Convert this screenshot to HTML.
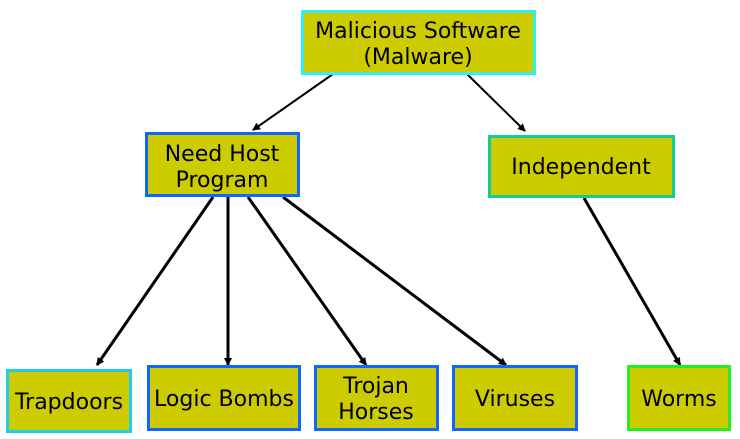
<!DOCTYPE html>
<html><head><style>
html,body{margin:0;padding:0;background:#fff;width:740px;height:439px;overflow:hidden}
text{font-family:"DejaVu Sans","Liberation Sans",sans-serif;font-size:22px;fill:#000}
</style></head><body>
<svg width="740" height="439" xmlns="http://www.w3.org/2000/svg">
<defs><marker id="a" markerWidth="8" markerHeight="8" refX="7" refY="4" orient="auto" markerUnits="userSpaceOnUse"><path d="M0,0 L8,4 L0,8 z" fill="#000"/></marker></defs>
<g stroke="#000" fill="none">
<line x1="333" y1="74" x2="253" y2="130" stroke-width="2" marker-end="url(#a)"/>
<line x1="467" y1="74" x2="525" y2="131" stroke-width="2" marker-end="url(#a)"/>
<line x1="213" y1="197" x2="97" y2="365" stroke-width="3" marker-end="url(#a)"/>
<line x1="228" y1="197" x2="228" y2="365" stroke-width="3" marker-end="url(#a)"/>
<line x1="248" y1="197" x2="366" y2="365" stroke-width="3" marker-end="url(#a)"/>
<line x1="283" y1="197" x2="506" y2="365" stroke-width="3" marker-end="url(#a)"/>
<line x1="584" y1="198" x2="680" y2="365" stroke-width="3" marker-end="url(#a)"/>
</g>
<g fill="#cccc00" stroke-width="3">
<rect x="302.5" y="11.5" width="232" height="62" stroke="#33eeee"/>
<rect x="146.5" y="133.5" width="152" height="62" stroke="#1166ff"/>
<rect x="489.5" y="136.5" width="184" height="60" stroke="#11cc99"/>
<rect x="7.5" y="370.5" width="123" height="61" stroke="#22ccee"/>
<rect x="148.5" y="366.5" width="151" height="63" stroke="#1166ff"/>
<rect x="315.5" y="366.5" width="122" height="63" stroke="#1166ff"/>
<rect x="453.5" y="366.5" width="123" height="63" stroke="#1166ff"/>
<rect x="628.5" y="366.5" width="101" height="63" stroke="#22ee22"/>
</g>
<g text-anchor="middle">
<text x="418" y="38">Malicious Software</text>
<text x="418" y="64">(Malware)</text>
<text x="222" y="161">Need Host</text>
<text x="222" y="187">Program</text>
<text x="581" y="174">Independent</text>
<text x="69" y="409">Trapdoors</text>
<text x="224" y="406">Logic Bombs</text>
<text x="376" y="393">Trojan</text>
<text x="376" y="419">Horses</text>
<text x="515" y="406">Viruses</text>
<text x="679" y="406">Worms</text>
</g>
</svg>
</body></html>
